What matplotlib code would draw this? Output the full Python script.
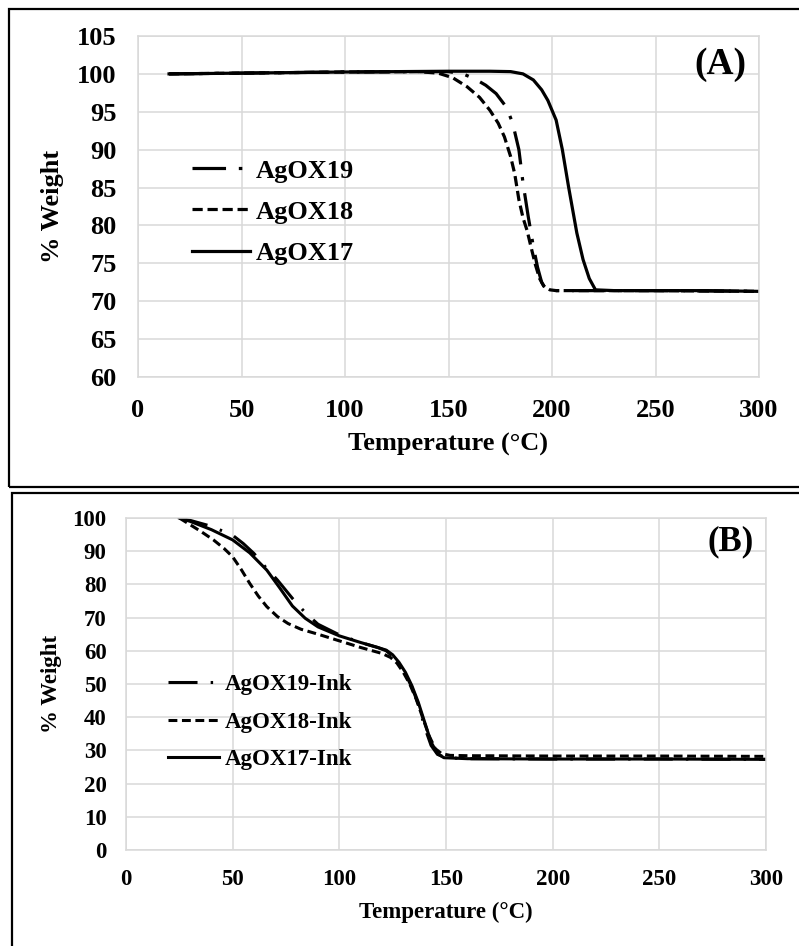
import matplotlib
matplotlib.use('Agg')
import matplotlib.pyplot as plt
from matplotlib.patches import Rectangle

plt.rcParams['font.family'] = ['Liberation Serif', 'DejaVu Serif']
plt.rcParams['font.weight'] = 'bold'

# ---------------- DATA (A) : neat AgOX compounds ----------------
t19 = [15, 50, 100, 150, 157, 163, 168, 173, 178, 181, 184, 186, 188.5, 191, 193, 195, 197, 200, 250, 300]
w19 = [100.0, 100.1, 100.25, 100.3, 100.0, 99.3, 98.5, 97.4, 95.6, 93.5, 90.0, 85.6, 81.2, 77.2, 74.5, 72.5, 71.6, 71.4, 71.4, 71.3]

t18 = [15, 50, 100, 135, 145, 152, 159, 165, 170, 174, 177, 180, 182, 184, 186, 188, 190, 192, 194, 196, 199, 202, 250, 300]
w18 = [100.0, 100.1, 100.25, 100.3, 100.1, 99.5, 98.3, 96.9, 95.2, 93.5, 91.7, 89.1, 86.8, 83.4, 81.0, 79.3, 77.0, 74.8, 73.0, 72.0, 71.5, 71.4, 71.4, 71.3]

t17 = [15, 50, 100, 150, 170, 180, 186, 191, 195, 198, 202, 205, 208, 212, 215, 218, 221, 230, 250, 275, 300]
w17 = [100.0, 100.1, 100.25, 100.35, 100.35, 100.3, 100.0, 99.2, 97.9, 96.5, 93.9, 90.0, 85.1, 79.0, 75.5, 73.0, 71.5, 71.4, 71.4, 71.4, 71.3]

# ---------------- DATA (B) : inks ----------------
ti19 = [25, 30, 40, 50, 55, 60, 65, 71, 78, 84, 90, 100, 110, 118, 122, 125, 128, 131, 134, 137, 140, 143, 146, 150, 160, 200, 250, 300]
wi19 = [100, 99.3, 97.5, 94.8, 92.3, 89.3, 85.5, 81.3, 75.8, 71.5, 68.0, 64.8, 62.5, 61.0, 60.0, 58.3, 56.0, 53.0, 49.0, 44.0, 37.0, 31.5, 28.8, 27.8, 27.5, 27.4, 27.4, 27.3]

ti18 = [25, 30, 35, 41, 46, 50, 54, 58, 62, 66, 71, 76, 82, 90, 100, 110, 120, 124, 127, 130, 133, 136, 139, 142, 145, 148, 152, 160, 200, 250, 300]
wi18 = [100, 98.0, 96.0, 93.4, 90.8, 88.3, 84.5, 80.3, 76.5, 73.3, 70.3, 68.2, 66.5, 65.0, 63.0, 61.0, 59.2, 58.0, 56.3, 53.5, 50.0, 45.5, 40.0, 34.5, 30.5, 29.0, 28.5, 28.4, 28.3, 28.3, 28.2]

ti17 = [25, 30, 40, 50, 58, 66, 72, 78, 84, 90, 100, 110, 118, 122, 125, 128, 131, 134, 137, 140, 143, 146, 149, 160, 200, 250, 300]
wi17 = [100, 99.0, 96.5, 93.4, 89.5, 84.3, 79.0, 73.5, 69.8, 67.2, 64.5, 62.5, 61.0, 60.2, 58.8, 56.5, 53.5, 49.5, 44.5, 38.5, 32.5, 29.0, 27.8, 27.5, 27.4, 27.4, 27.3]

xticks = [0, 50, 100, 150, 200, 250, 300]
yticks_a = [60, 65, 70, 75, 80, 85, 90, 95, 100, 105]
yticks_b = [0, 10, 20, 30, 40, 50, 60, 70, 80, 90, 100]

GRID = '#d9d9d9'

fig = plt.figure(figsize=(7.99, 9.46), dpi=100)

# outer frames around each panel
fig.add_artist(Rectangle((8.5 / 799, 1 - 487 / 946), 1.0, (487 - 9.5) / 946,
                         transform=fig.transFigure, fill=False, lw=1.6, ec='black'))
fig.add_artist(Rectangle((12 / 799, -0.01), 1.0, 0.01 + 1 - 493.5 / 946,
                         transform=fig.transFigure, fill=False, lw=1.6, ec='black'))


def style_axes(ax, yticks, fs, pad):
    ax.set_xlim(0, 300)
    ax.set_xticks(xticks)
    ax.set_yticks(yticks)
    ax.set_ylim(yticks[0], yticks[-1])
    ax.grid(True, color=GRID, lw=1.1)
    ax.set_axisbelow(True)
    for s in ax.spines.values():
        s.set_color(GRID)
        s.set_linewidth(1.1)
    ax.tick_params(length=0, labelsize=fs, pad=pad)


# =========================================================
# PANEL A
# =========================================================
axA = fig.add_axes([138 / 799, 1 - 377 / 946, 621 / 799, 341 / 946])
style_axes(axA, yticks_a, 19, 15.5)

lw_a = 2.3
axA.plot(t19, w19, color='black', lw=lw_a, dashes=(10.5, 4, 1.1, 4), label='AgOX19')
axA.plot(t18, w18, color='black', lw=lw_a, dashes=(3.2, 1.5), label='AgOX18')
axA.plot(t17, w17, color='black', lw=lw_a, label='AgOX17')

axA.set_xlabel('Temperature (°C)', fontsize=19, fontweight='bold', va='center')
axA.xaxis.set_label_coords(0.5, -0.199)
axA.set_ylabel('% Weight', fontsize=19, fontweight='bold', va='center')
axA.yaxis.set_label_coords(-0.138, 0.5)
axA.text(0.937, 0.915, '(A)', transform=axA.transAxes, fontsize=27,
         fontweight='bold', ha='center', va='center')
axA.legend(loc='upper left', bbox_to_anchor=(0.087, 0.639), frameon=False,
           fontsize=19, handlelength=2.2, handletextpad=0.23, labelspacing=0.67,
           borderpad=0, borderaxespad=0)

# =========================================================
# PANEL B
# =========================================================
axB = fig.add_axes([126 / 799, 1 - 850 / 946, 640 / 799, 332 / 946])
style_axes(axB, yticks_b, 16.5, 14)

lw_b = 2.2
axB.plot(ti19, wi19, color='black', lw=lw_b, dashes=(9.5, 4.3, 0.8, 4.3), label='AgOX19-Ink')
axB.plot(ti18, wi18, color='black', lw=lw_b, dashes=(2.9, 1.5), label='AgOX18-Ink')
axB.plot(ti17, wi17, color='black', lw=lw_b, label='AgOX17-Ink')

axB.set_xlabel('Temperature (°C)', fontsize=16.5, fontweight='bold', va='center')
axB.xaxis.set_label_coords(0.5, -0.187)
axB.set_ylabel('% Weight', fontsize=16.5, fontweight='bold', va='center')
axB.yaxis.set_label_coords(-0.116, 0.5)
axB.text(0.944, 0.928, '(B)', transform=axB.transAxes, fontsize=25,
         fontweight='bold', ha='center', va='center')
axB.legend(loc='upper left', bbox_to_anchor=(0.066, 0.530), frameon=False,
           fontsize=16.5, handlelength=2.2, handletextpad=0.26, labelspacing=0.72,
           borderpad=0, borderaxespad=0)

fig.savefig('out.png', dpi=100)
